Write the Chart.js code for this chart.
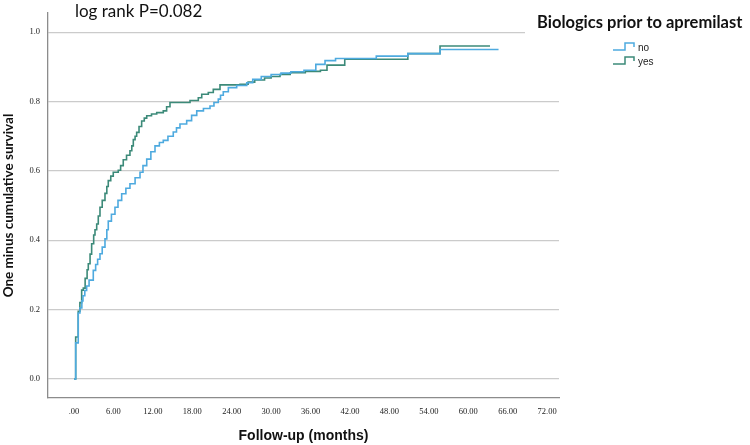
<!DOCTYPE html>
<html>
<head>
<meta charset="utf-8">
<script src="https://cdn.jsdelivr.net/npm/chart.js@4"></script>
<style>
body { margin: 0; background: #fff; }
#wrap { width: 750px; height: 445px; position: relative; }
</style>
</head>
<body>
<div id="wrap"><canvas id="kmChart"></canvas></div>
<script>
// event times (months) and one minus cumulative survival
const groups = ['no', 'yes'];

const noTimes = [0, 0.26, 0.65, 0.91, 1.2, 1.37, 1.65, 1.93, 2.3, 2.94, 3.3, 3.6, 3.96, 4.3, 4.72, 5.0, 5.22, 5.7,
    6.24, 6.7, 7.26, 7.9, 8.52, 9.3, 10.05, 10.5, 11.07, 11.7, 12.33, 13.0, 13.59, 14.3, 15.11, 15.6, 16.13,
    17.15, 17.9, 18.68, 19.7, 20.7, 21.3, 21.96, 22.3, 22.72, 23.49, 24.76, 26.29, 27.2, 28.5, 30.0, 31.5,
    33.0, 35.0, 36.8, 38.2, 39.8, 46.0, 50.8, 55.7, 64.6];
const noValues = [0, 0.104, 0.19, 0.205, 0.225, 0.24, 0.255, 0.268, 0.285, 0.313, 0.33, 0.345, 0.361, 0.38, 0.404,
    0.43, 0.455, 0.475, 0.495, 0.515, 0.534, 0.55, 0.563, 0.58, 0.596, 0.615, 0.634, 0.655, 0.672, 0.682, 0.688,
    0.70, 0.712, 0.724, 0.735, 0.745, 0.76, 0.773, 0.78, 0.787, 0.797, 0.807, 0.818, 0.828, 0.84, 0.846, 0.854,
    0.864, 0.872, 0.878, 0.882, 0.886, 0.89, 0.907, 0.918, 0.924, 0.931, 0.938, 0.95, 0.95];

const yesTimes = [0, 0.26, 0.65, 0.9, 1.17, 1.42, 1.7, 2.0, 2.18, 2.45, 2.69, 3.0, 3.2, 3.46, 3.7, 3.96, 4.3, 4.72,
    5.0, 5.22, 5.6, 5.98, 6.74, 7.1, 7.5, 8.0, 8.52, 8.8, 9.03, 9.3, 9.54, 9.9, 10.3, 10.7, 11.07, 11.8, 12.59,
    13.59, 14.1, 14.61, 17.66, 18.92, 19.44, 20.44, 21.2, 22.22, 25.27, 26.5, 27.5, 29.0, 30.0, 31.35, 32.9,
    35.2, 37.5, 38.5, 41.2, 50.8, 55.7, 63.3];
const yesValues = [0, 0.121, 0.195, 0.22, 0.256, 0.262, 0.29, 0.315, 0.332, 0.36, 0.39, 0.415, 0.43, 0.447, 0.47,
    0.495, 0.515, 0.535, 0.555, 0.572, 0.585, 0.596, 0.602, 0.615, 0.632, 0.645, 0.658, 0.672, 0.69, 0.70,
    0.711, 0.728, 0.744, 0.752, 0.759, 0.764, 0.768, 0.773, 0.785, 0.797, 0.803, 0.811, 0.821, 0.826, 0.835,
    0.848, 0.85, 0.856, 0.862, 0.868, 0.872, 0.878, 0.883, 0.887, 0.89, 0.905, 0.922, 0.938, 0.96, 0.96];

const xTicks = [0, 6, 12, 18, 24, 30, 36, 42, 48, 54, 60, 66, 72];
const yTicks = [0, 0.2, 0.4, 0.6, 0.8, 1.0];

const lineColors = ['#4eaadf', '#3c8a79'];

function toPoints(times, values) {
    return times.map((t, i) => ({ x: t, y: values[i] }));
}

const extraText = {
    id: 'extraText',
    afterDraw(chart) {
        const c = chart.ctx;
        c.save();
        // legend title sits on a white box over the top grid line
        c.fillStyle = '#fff';
        c.fillRect(525, 24, 225, 14);

        c.fillStyle = '#111';
        c.textBaseline = 'alphabetic';
        c.font = '17px Lato';
        c.fillText('log rank P=0.082', 75, 17);

        c.font = 'bold 16.5px Lato';
        c.fillText('Biologics prior to apremilast', 537, 28);

        c.font = '10px "Liberation Sans"';
        c.lineWidth = 1.5;
        groups.forEach((g, i) => {
            const y = 48 + i * 14;
            c.strokeStyle = lineColors[i];
            c.beginPath();
            c.moveTo(613, y + 2);
            c.lineTo(625, y + 2);
            c.lineTo(625, y - 5);
            c.lineTo(634, y - 5);
            c.lineTo(634, y - 1);
            c.stroke();
            c.fillStyle = '#222';
            c.textBaseline = 'middle';
            c.fillText(g, 638, y);
        });
        c.restore();
    }
};

const ctx = document.getElementById('kmChart');

new Chart(ctx, {
    type: 'line',
    data: {
        datasets: [
            {
                label: groups[0],
                data: toPoints(noTimes, noValues),
                borderColor: lineColors[0],
                borderWidth: 1.6,
                stepped: true,
                pointRadius: 0,
                fill: false
            },
            {
                label: groups[1],
                data: toPoints(yesTimes, yesValues),
                borderColor: lineColors[1],
                borderWidth: 1.6,
                stepped: true,
                pointRadius: 0,
                fill: false
            }
        ]
    },
    options: {
        responsive: true,
        maintainAspectRatio: false,
        animation: false,
        layout: {
            padding: { top: 12, right: 191, left: 0, bottom: 0 }
        },
        plugins: {
            legend: { display: false },
            tooltip: { enabled: false }
        },
        scales: {
            x: {
                type: 'linear',
                min: -3.95,
                max: 73.8,
                afterBuildTicks: (scale) => { scale.ticks = xTicks.map(v => ({ value: v })); },
                afterFit: (scale) => { scale.height = 47; },
                grid: { display: false, drawTicks: false },
                border: { color: '#8c8c8c', width: 1.3 },
                ticks: {
                    padding: 9,
                    maxRotation: 0,
                    autoSkip: false,
                    color: '#222',
                    font: { family: "'Liberation Serif'", size: 8.5 },
                    callback: (v) => v === 0 ? '.00' : v.toFixed(2)
                },
                title: {
                    display: true,
                    text: 'Follow-up (months)',
                    color: '#111',
                    padding: { top: 0, bottom: 0 },
                    font: { family: "'Liberation Sans'", size: 14, weight: 'bold' }
                }
            },
            y: {
                min: -0.055,
                max: 1.055,
                afterBuildTicks: (scale) => { scale.ticks = yTicks.map(v => ({ value: v })); },
                afterFit: (scale) => { scale.width = 48; },
                grid: {
                    color: '#cbcbcb',
                    lineWidth: 1.3,
                    drawTicks: false
                },
                border: { color: '#8c8c8c', width: 1.3 },
                ticks: {
                    padding: 8,
                    color: '#222',
                    font: { family: "'Liberation Serif'", size: 8.5 },
                    callback: (v) => v.toFixed(1)
                },
                title: {
                    display: true,
                    text: 'One minus cumulative survival',
                    color: '#111',
                    padding: { top: 1, bottom: 0 },
                    font: { family: 'Lato', size: 13.5, weight: 'bold' }
                }
            }
        }
    },
    plugins: [extraText]
});
</script>
</body>
</html>
